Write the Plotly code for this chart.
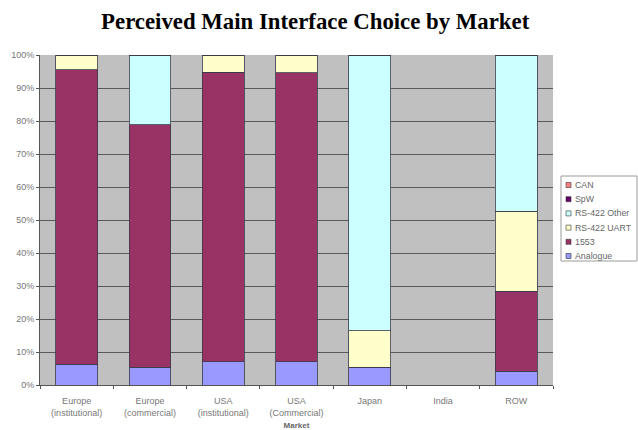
import plotly.graph_objects as go

markets = ["Europe<br>(institutional)", "Europe<br>(commercial)", "USA<br>(institutional)",
           "USA<br>(Commercial)", "Japan", "India", "ROW"]

# Share of respondents (%) per interface, bottom of stack first
analogue = [6.3, 5.4, 7.0, 7.0, 5.4, 0, 4.2]
mil1553 = [89.2, 73.4, 87.8, 87.6, 0, 0, 24.2]
rs422_uart = [4.5, 0, 5.2, 5.4, 11.1, 0, 24.2]
rs422_other = [0, 21.2, 0, 0, 83.5, 0, 47.4]
spw = [0, 0, 0, 0, 0, 0, 0]
can = [0, 0, 0, 0, 0, 0, 0]

series_names = ["Analogue", "1553", "RS-422 UART", "RS-422 Other", "SpW", "CAN"]
series_values = [analogue, mil1553, rs422_uart, rs422_other, spw, can]
series_colors = ["#9999FF", "#993366", "#FFFFCC", "#CCFFFF", "#660066", "#FF8080"]

W, H = 638, 430
L, R, T, B = 40, 85, 55, 45

fig = go.Figure()
for name, vals, col in zip(series_names, series_values, series_colors):
    fig.add_trace(go.Bar(
        x=markets, y=vals, name=name, showlegend=False,
        marker=dict(color=col, line=dict(color="#3a3a4a", width=0.8)),
    ))

# Hand-drawn legend box (top entry = last series), in pixel-derived paper coords
pw, ph = W - L - R, H - T - B
def px_x(px):
    return (px - L) / pw
def px_y(py):
    return (H - B - py) / ph

shapes = [dict(type="rect", xref="paper", yref="paper",
               x0=px_x(561), x1=px_x(637), y0=px_y(261), y1=px_y(176),
               line=dict(color="#9a9a9a", width=1), fillcolor="white", layer="above")]
annotations = []
for i, (name, col) in enumerate(zip(reversed(series_names), reversed(series_colors))):
    cy = 185 + i * 14.2
    shapes.append(dict(type="rect", xref="paper", yref="paper",
                       x0=px_x(566), x1=px_x(571), y0=px_y(cy + 2.5), y1=px_y(cy - 2.5),
                       line=dict(color="#333333", width=0.6), fillcolor=col, layer="above"))
    annotations.append(dict(text=name, xref="paper", yref="paper", x=px_x(572.5), y=px_y(cy),
                            xanchor="left", yanchor="middle", showarrow=False,
                            font=dict(family="Liberation Sans, Arial", size=8.8, color="#666666")))

fig.update_layout(
    width=W, height=H,
    margin=dict(l=L, r=R, t=T, b=B),
    barmode="stack", bargap=0.43,
    paper_bgcolor="white", plot_bgcolor="#C0C0C0",
    title=dict(text="<b>Perceived Main Interface Choice by Market</b>",
               x=0.494, xanchor="center", y=0.95, yanchor="middle",
               font=dict(family="Liberation Serif, Times New Roman", size=22.8, color="black")),
    font=dict(family="Liberation Sans, Arial", size=9, color="#666666"),
    shapes=shapes, annotations=annotations,
)
fig.update_xaxes(
    title=dict(text="<b>Market</b>", font=dict(size=8, color="#666666"), standoff=7),
    showgrid=False, showline=True, linecolor="#555555", linewidth=1,
    ticks="outside", ticklen=3, tickcolor="#555555", tickson="boundaries",
    ticklabelstandoff=7, automargin=False,
    tickfont=dict(size=9, color="#777777"),
)
fig.update_yaxes(
    range=[0, 100], tickvals=list(range(0, 101, 10)),
    ticktext=[f"{v}%" for v in range(0, 101, 10)],
    showgrid=True, gridcolor="#5a5a5a", gridwidth=1,
    showline=True, linecolor="#555555", linewidth=1,
    ticks="outside", ticklen=3, tickcolor="#555555", automargin=False,
    tickfont=dict(size=9, color="#777777"), zeroline=False,
)

fig.write_html("out.html")
